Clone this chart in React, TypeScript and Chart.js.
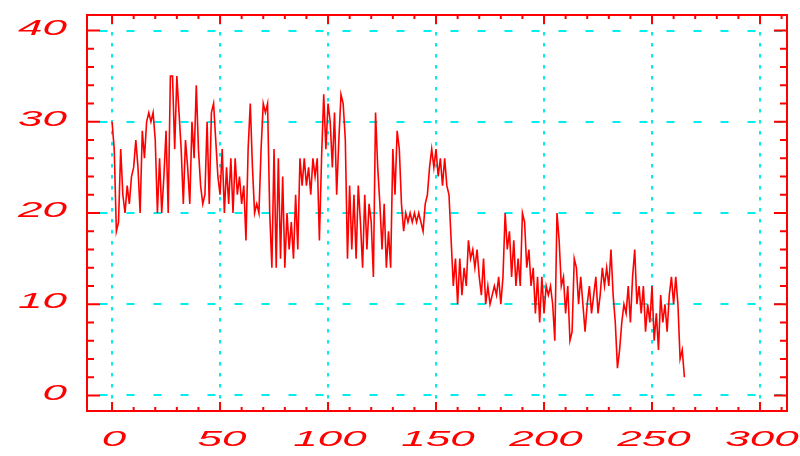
import React, { useEffect, useRef } from 'react';
import { Chart, registerables } from 'chart.js';

Chart.register(...registerables);

const values: number[] = [
  30, 27, 18, 19, 27, 22, 20, 23, 21, 24,
  25, 28, 25, 20, 29, 26, 30, 31, 30, 31,
  28, 20, 26, 20, 24, 29, 20, 35, 35, 27,
  35, 31, 27, 21, 28, 25, 21, 30, 26, 34,
  27, 23, 21, 22, 30, 21, 31, 32, 28, 24,
  22, 27, 20, 25, 21, 26, 20, 26, 22, 24,
  21, 23, 17, 27, 32, 25, 20, 21, 20, 27,
  32, 31, 32, 20, 14, 27, 14, 26, 15, 24,
  14, 20, 16, 19, 15, 22, 16, 26, 23, 26,
  23, 25, 22, 26, 24, 26, 17, 26, 33, 27,
  32, 30, 25, 31, 22, 28, 33, 32, 28, 15,
  23, 16, 22, 15, 23, 19, 14, 22, 16, 21,
  19, 13, 31, 25, 21, 16, 21, 14, 18, 14,
  27, 22, 29, 27, 21, 18, 20, 19, 20, 19,
  20, 19, 20, 19, 18, 21, 22, 25, 27, 25,
  27, 24, 26, 23, 26, 23, 22, 17, 12, 15,
  10, 15, 11, 14, 12, 17, 15, 16, 14, 16,
  13, 11, 15, 10, 12, 10, 11, 12, 11, 13,
  10, 13, 20, 16, 18, 13, 17, 12, 15, 12,
  20, 19, 14, 16, 12, 14, 9, 13, 8, 13,
  9, 12, 11, 12, 10, 6, 20, 17, 12, 13,
  9, 12, 6, 7, 15, 14, 10, 13, 10, 7,
  10, 12, 9, 11, 13, 9, 11, 14, 12, 14,
  12, 16, 11, 8, 3, 5, 8, 10, 9, 12,
  8, 13, 16, 10, 12, 9, 12, 7, 10, 8,
  12, 6, 9, 5, 11, 8, 10, 7, 11, 13,
  10, 13, 10, 4, 5, 2,
];

const xTicks: number[] = [0, 50, 100, 150, 200, 250, 300];
const yTicks: number[] = [0, 10, 20, 30, 40];
const xMinorStep = 10;
const yMinorStep = 2;

const RED = '#ff0000';
const CYAN = '#00eeee';

const framePlugin = {
  id: 'frame',
  afterDraw(chart: any) {
    const { ctx, chartArea, scales } = chart;
    const { left, right, top, bottom } = chartArea;
    const xs = scales.x;
    const ys = scales.y;
    ctx.save();
    ctx.strokeStyle = RED;
    ctx.lineWidth = 2;
    ctx.setLineDash([]);
    ctx.beginPath();
    for (let v = 0; v <= 310; v += xMinorStep) {
      const px = xs.getPixelForValue(v);
      if (px < left || px > right) continue;
      const len = v % 50 === 0 ? 9 : 4;
      ctx.moveTo(px, top);
      ctx.lineTo(px, top + len);
      ctx.moveTo(px, bottom);
      ctx.lineTo(px, bottom - len);
    }
    for (let v = 0; v <= 40; v += yMinorStep) {
      const py = ys.getPixelForValue(v);
      const len = v % 10 === 0 ? 13 : 7;
      ctx.moveTo(left, py);
      ctx.lineTo(left + len, py);
      ctx.moveTo(right, py);
      ctx.lineTo(right - len, py);
    }
    ctx.stroke();
    ctx.strokeRect(left, top, right - left, bottom - top);

    ctx.fillStyle = RED;
    ctx.font = 'italic 22px "Liberation Sans", Arial, sans-serif';
    ctx.textBaseline = 'middle';
    ctx.textAlign = 'center';
    xs.ticks.forEach((t: any) => {
      const px = xs.getPixelForValue(t.value);
      ctx.save();
      ctx.translate(px + 2, 440);
      ctx.scale(2, 1);
      ctx.fillText(String(t.label), 0, 0);
      ctx.restore();
    });
    ctx.textAlign = 'right';
    ys.ticks.forEach((t: any) => {
      const py = ys.getPixelForValue(t.value);
      ctx.save();
      ctx.translate(67, py - 2);
      ctx.scale(2, 1);
      ctx.fillText(String(t.label), 0, 0);
      ctx.restore();
    });
    ctx.restore();
  },
};

export default function App() {
  const canvasRef = useRef<HTMLCanvasElement | null>(null);

  useEffect(() => {
    const canvas = canvasRef.current;
    if (!canvas) return;
    const chart = new Chart(canvas, {
      type: 'line',
      data: {
        datasets: [
          {
            data: values.map((v, i) => ({ x: i, y: v })),
            borderColor: RED,
            borderWidth: 1.6,
            pointRadius: 0,
            tension: 0,
            fill: false,
          },
        ],
      },
      options: {
        animation: false,
        responsive: false,
        maintainAspectRatio: false,
        events: [],
        layout: { padding: { top: 15, right: 13, left: 0, bottom: 0 } },
        plugins: { legend: { display: false }, tooltip: { enabled: false } },
        scales: {
          x: {
            type: 'linear',
            min: -11.6,
            max: 312.5,
            afterBuildTicks: (s: any) => {
              s.ticks = xTicks.map((v) => ({ value: v }));
            },
            afterFit: (s: any) => {
              s.height = 45;
            },
            ticks: { display: false },
            grid: { color: CYAN, lineWidth: 2, drawTicks: false },
            border: { display: false, dash: [3.5, 7.5], dashOffset: 5 },
          },
          y: {
            type: 'linear',
            min: -1.7,
            max: 41.7,
            afterBuildTicks: (s: any) => {
              s.ticks = yTicks.map((v) => ({ value: v }));
            },
            afterFit: (s: any) => {
              s.width = 87;
            },
            ticks: { display: false },
            grid: { color: CYAN, lineWidth: 2, drawTicks: false },
            border: { display: false, dash: [8, 19], dashOffset: 14.5 },
          },
        },
      },
      plugins: [framePlugin],
    });
    return () => chart.destroy();
  }, []);

  return (
    <div style={{ position: 'fixed', left: 0, top: 0, width: 800, height: 456, background: '#ffffff' }}>
      <canvas ref={canvasRef} width={800} height={456} style={{ width: 800, height: 456, display: 'block' }} />
    </div>
  );
}
